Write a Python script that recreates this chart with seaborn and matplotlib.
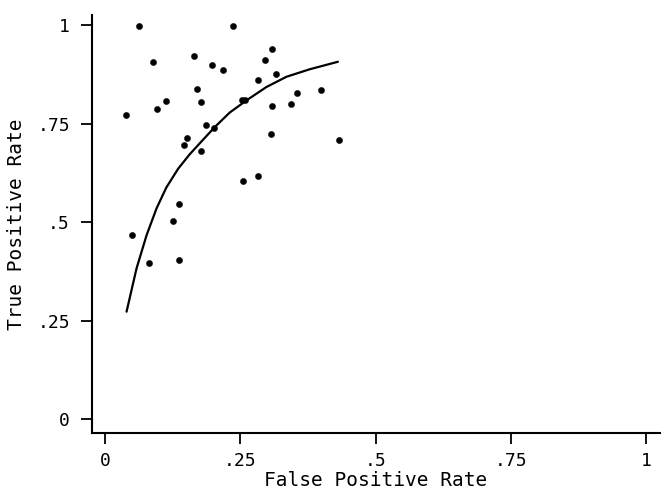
import matplotlib
matplotlib.use("Agg")
import matplotlib.pyplot as plt
import pandas as pd
import seaborn as sns

# Observed operating points (false positive rate, true positive rate)
fpr = [0.038, 0.062, 0.088, 0.095, 0.112, 0.164, 0.169, 0.177, 0.187, 0.201,
       0.197, 0.217, 0.237, 0.253, 0.259, 0.283, 0.296, 0.308, 0.315, 0.355,
       0.399, 0.308, 0.344, 0.306, 0.432, 0.151, 0.145, 0.177, 0.254, 0.283,
       0.136, 0.126, 0.049, 0.081, 0.136]
tpr = [0.772, 0.998, 0.907, 0.786, 0.808, 0.921, 0.838, 0.805, 0.747, 0.740,
       0.898, 0.886, 0.998, 0.810, 0.810, 0.861, 0.912, 0.939, 0.876, 0.828,
       0.835, 0.794, 0.799, 0.724, 0.708, 0.713, 0.697, 0.681, 0.605, 0.618,
       0.547, 0.502, 0.467, 0.397, 0.403]

# Fitted summary ROC curve
curve_fpr = [0.0395, 0.058, 0.0765, 0.0949, 0.113, 0.135, 0.156, 0.178,
             0.203, 0.230, 0.261, 0.298, 0.335, 0.378, 0.430]
curve_tpr = [0.273, 0.383, 0.467, 0.535, 0.588, 0.636, 0.672, 0.705,
             0.742, 0.778, 0.809, 0.843, 0.869, 0.888, 0.907]

tick_vals = [0, 0.25, 0.5, 0.75, 1]
tick_labels = ["0", ".25", ".5", ".75", "1"]

points = pd.DataFrame({"fpr": fpr, "tpr": tpr})
curve = pd.DataFrame({"fpr": curve_fpr, "tpr": curve_tpr})

sns.set_theme(style="ticks")
plt.rcParams["font.family"] = ["DejaVu Sans Mono", "DejaVu Sans"]

fig = plt.figure(figsize=(6.68, 4.92), dpi=100)
ax = fig.add_axes([0.138, 0.119, 0.850, 0.850])

sns.lineplot(data=curve, x="fpr", y="tpr", sort=False, estimator=None,
             color="black", linewidth=1.6, ax=ax)
sns.scatterplot(data=points, x="fpr", y="tpr", color="black", s=20,
                edgecolor="black", linewidth=0.3, ax=ax)

ax.set_xlim(-0.024, 1.025)
ax.set_ylim(-0.036, 1.025)
ax.set_xticks(tick_vals)
ax.set_xticklabels(tick_labels)
ax.set_yticks(tick_vals)
ax.set_yticklabels(tick_labels)
ax.tick_params(axis="both", direction="out", length=8, width=1.3,
               color="black", labelsize=13, labelcolor="black", pad=5)
ax.tick_params(axis="y", pad=8)

for side in ("top", "right"):
    ax.spines[side].set_visible(False)
for side in ("left", "bottom"):
    ax.spines[side].set_color("black")
    ax.spines[side].set_linewidth(1.5)

ax.set_xlabel("False Positive Rate", fontsize=14, color="black", labelpad=1)
ax.set_ylabel("True Positive Rate", fontsize=14, color="black", labelpad=8)

fig.savefig("out.png", dpi=100, facecolor="white")
